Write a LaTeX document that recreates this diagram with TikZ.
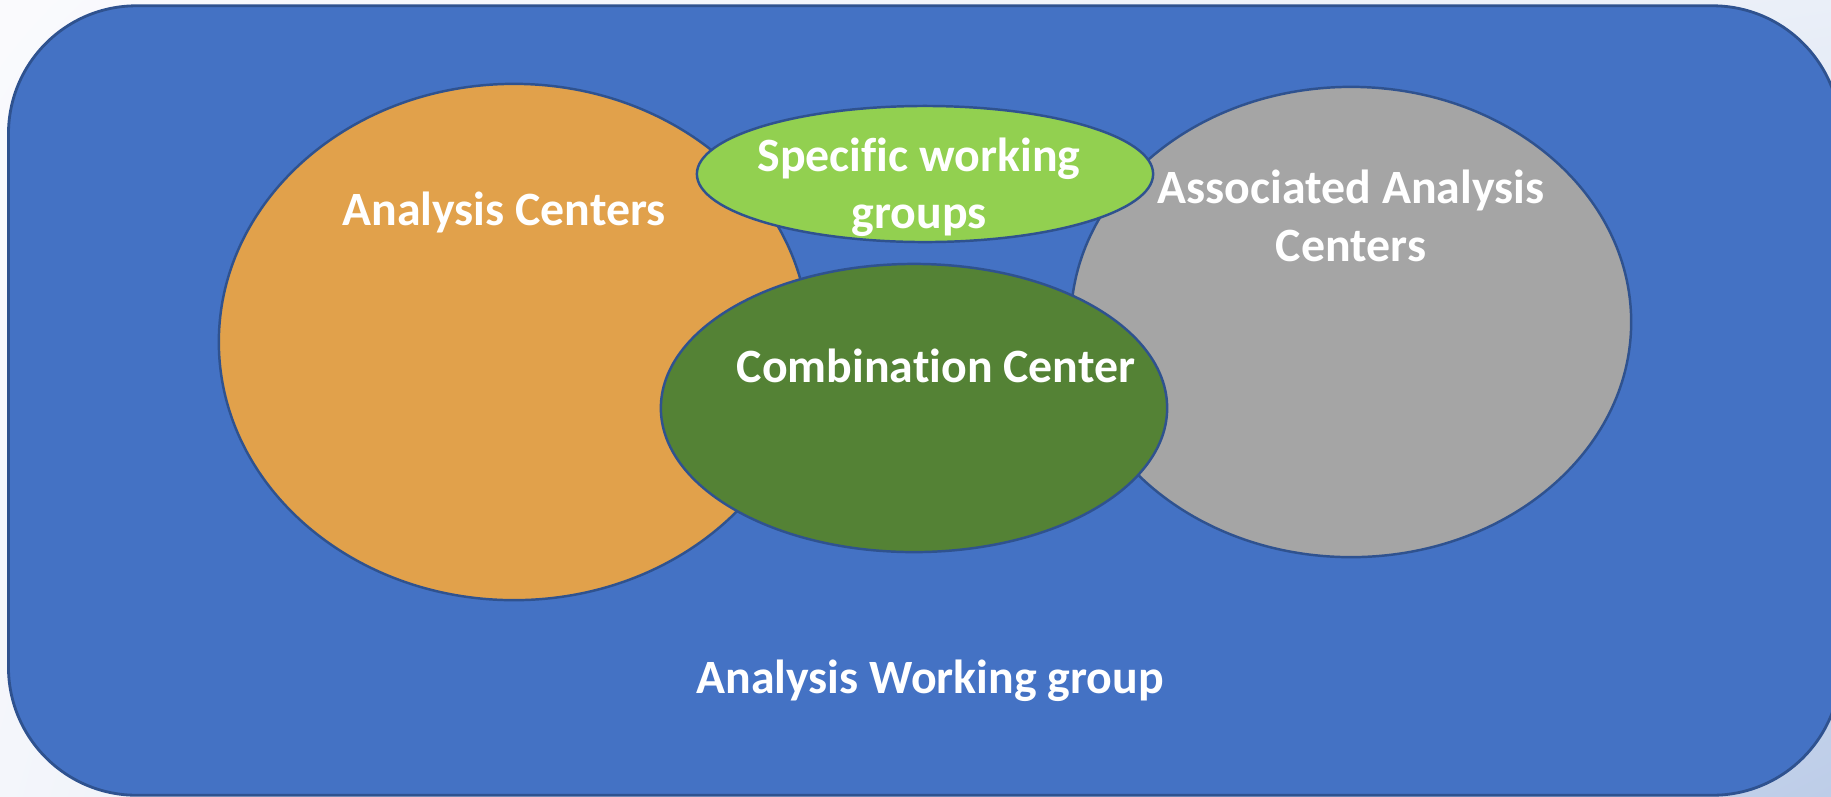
\documentclass[tikz,border=0pt]{standalone}
\usepackage{fontspec}
\setmainfont{Carlito}[Ligatures=NoCommon]
\usetikzlibrary{shapes.geometric,shadings}
\definecolor{awgblue}{HTML}{4472C4}
\definecolor{edgeblue}{HTML}{2F528F}
\definecolor{acorange}{HTML}{E1A14B}
\definecolor{aacgray}{HTML}{A5A5A5}
\definecolor{swglime}{HTML}{92D050}
\definecolor{ccgreen}{HTML}{548235}
\definecolor{bgul}{HTML}{FAFAFD}
\definecolor{bgur}{HTML}{EAEFF8}
\definecolor{bgll}{HTML}{F4F6FB}
\definecolor{bglr}{HTML}{BDCDE8}

\begin{document}
\begin{tikzpicture}[x=0.01cm,y=-0.01cm,
  blob/.style={ellipse,draw=edgeblue,line width=0.7pt,inner sep=0pt},
  lbl/.style={text=white,font=\fontsize{13.6}{16.3}\selectfont\bfseries,align=center}]
\useasboundingbox (0,0) rectangle (1831,796);
\shade[upper left=bgul,upper right=bgur,lower left=bgll,lower right=bglr] (0,0) rectangle (1831,796);
\node[draw=edgeblue,fill=awgblue,line width=0.8pt,rounded corners=1.28cm,minimum width=18.31cm,minimum height=7.89cm] (awg) at (924.5,400.5) {};
\node[blob,fill=acorange,minimum width=5.9cm,minimum height=5.16cm] (ac) at (514,342) {};
\node[blob,fill=aacgray,minimum width=5.6cm,minimum height=4.7cm] (aac) at (1351,322) {};
\node[blob,fill=ccgreen,minimum width=5.06cm,minimum height=2.88cm] (cc) at (914,408) {};
\node[blob,fill=swglime,minimum width=4.56cm,minimum height=1.36cm] (swg) at (925,174) {};
\node[lbl] (acname) at (504,212) {Analysis Centers};
\node[lbl] (aacname) at (1351,216) {Associated Analysis\\Centers};
\node[lbl] (swgname) at (919,187) {Specific working\\groups};
\node[lbl] (ccname) at (936,366) {Combination Center};
\node[lbl] (awgname) at (930,681) {Analysis Working group};
\end{tikzpicture}
\end{document}
